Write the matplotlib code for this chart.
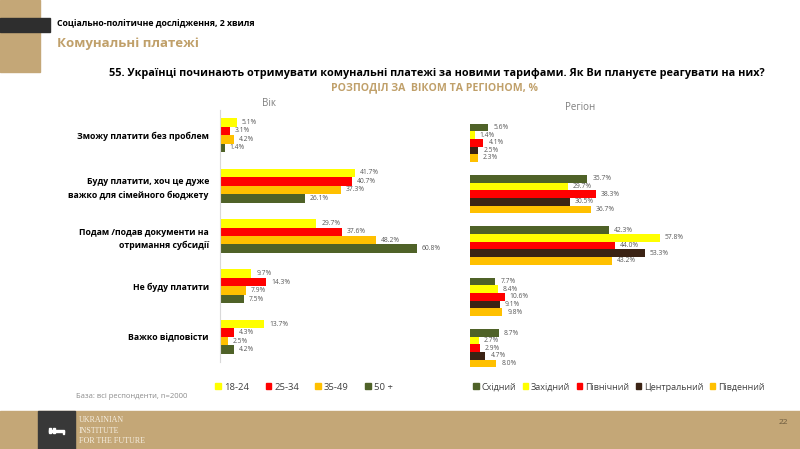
import matplotlib
matplotlib.use("Agg")
import matplotlib.pyplot as plt
from matplotlib.patches import Rectangle, Patch
import numpy as np

plt.rcParams['font.family'] = ['Open Sans', 'DejaVu Sans']

# --- data ---
answers = ["Зможу платити без проблем",
           "Буду платити, хоч це дуже\nважко для сімейного бюджету",
           "Подам /подав документи на\nотримання субсидії",
           "Не буду платити",
           "Важко відповісти"]

age_groups = ["18-24", "25-34", "35-49", "50 +"]
age_18_24 = [5.1, 41.7, 29.7, 9.7, 13.7]
age_25_34 = [3.1, 40.7, 37.6, 14.3, 4.3]
age_35_49 = [4.2, 37.3, 48.2, 7.9, 2.5]
age_50 = [1.4, 26.1, 60.8, 7.5, 4.2]

regions = ["Східний", "Західний", "Північний", "Центральний", "Південний"]
reg_east = [5.6, 35.7, 42.3, 7.7, 8.7]
reg_west = [1.4, 29.7, 57.8, 8.4, 2.7]
reg_north = [4.1, 38.3, 44.0, 10.6, 2.9]
reg_center = [2.5, 30.5, 53.3, 9.1, 4.7]
reg_south = [2.3, 36.7, 43.2, 9.8, 8.0]

yellow = "#FFFF00"
red = "#FF0000"
orange = "#FFC000"
olive = "#4F6228"
brown = "#3B2314"
tan = "#C4A777"
gold = "#C0A06A"
lblgray = "#595959"

W, H = 800, 449
fig = plt.figure(figsize=(W / 100, H / 100), dpi=100)


def box(x0, y0, x1, y1):
    # pixel box (top-left origin) -> figure fraction rect
    return [x0 / W, 1 - y1 / H, (x1 - x0) / W, (y1 - y0) / H]


def fx(x):
    return x / W


def fy(y):
    return 1 - y / H


# decorations
fig.patches.append(Rectangle((0, fy(72)), fx(40), 72 / H, transform=fig.transFigure,
                             color=tan, zorder=0))
fig.patches.append(Rectangle((0, fy(32)), fx(50), 14 / H, transform=fig.transFigure,
                             color="#2E2E2E", zorder=1))
fig.patches.append(Rectangle((0, 0), 1, 38 / H, transform=fig.transFigure,
                             color=tan, zorder=0))
fig.patches.append(Rectangle((fx(38), 0), fx(37), 38 / H, transform=fig.transFigure,
                             color="#383838", zorder=1))
# small key logo
fig.patches.append(Rectangle((fx(49), fy(432)), fx(15), 1.6 / H, transform=fig.transFigure,
                             color="white", zorder=2))
fig.patches.append(Rectangle((fx(49), fy(433)), fx(1.6), 5 / H, transform=fig.transFigure,
                             color="white", zorder=2))
fig.patches.append(Rectangle((fx(53), fy(433)), fx(1.6), 5 / H, transform=fig.transFigure,
                             color="white", zorder=2))
fig.patches.append(Rectangle((fx(62.5), fy(434)), fx(1.6), 3 / H, transform=fig.transFigure,
                             color="white", zorder=2))

fig.text(fx(57), fy(24), "Соціально-політичне дослідження, 2 хвиля", fontsize=6.3,
         fontweight="bold", va="center", ha="left", color="black")
fig.text(fx(57), fy(43), "Комунальні платежі", fontsize=9.5, fontweight="bold",
         va="center", ha="left", color=gold)
fig.text(fx(437), fy(73),
         "55. Українці починають отримувати комунальні платежі за новими тарифами. Як Ви плануєте реагувати на них?",
         fontsize=7.8, fontweight="bold", ha="center", va="center", color="black")
fig.text(fx(435), fy(88), "РОЗПОДІЛ ЗА  ВІКОМ ТА РЕГІОНОМ, %", fontsize=7.6,
         fontweight="bold", ha="center", va="center", color=gold)
fig.text(fx(269), fy(104), "Вік", fontsize=7, ha="center", va="center", color="#7F7F7F")
fig.text(fx(580), fy(107), "Регіон", fontsize=7, ha="center", va="center", color="#7F7F7F")
fig.text(fx(76), fy(397), "База: всі респонденти, n=2000", fontsize=5.5, ha="left",
         va="center", color="#8C8C8C")

# footer text
for yy, txt in [(420, "UKRAINIAN"), (431, "INSTITUTE"), (441, "FOR THE FUTURE")]:
    fig.text(fx(79), fy(yy), txt, fontsize=5.8, family="Liberation Serif",
             color="#F5EEE0", va="center", ha="left")
fig.text(fx(783), fy(423), "22", fontsize=6, color="#6B5A3E", ha="center", va="center")

# --- age chart ---
ax1 = fig.add_axes(box(220, 110, 447, 362))
age_series = [age_18_24, age_25_34, age_35_49, age_50]
age_colors = [yellow, red, orange, olive]
y = np.arange(len(answers))
bh = 0.168
for i, (vals, c) in enumerate(zip(age_series, age_colors)):
    pos = y - 1.5 * bh + i * bh
    ax1.barh(pos, vals, height=bh, color=c)
    for p, v in zip(pos, vals):
        ax1.text(v + 1.5, p, f"{v:.1f}%", fontsize=4.9, color=lblgray, va="center", ha="left")
ax1.set_xlim(0, 70)
ax1.set_ylim(4.5, -0.5)
ax1.set_yticks(y)
ax1.set_yticklabels(answers, fontsize=6.3, fontweight="bold", linespacing=1.6)
ax1.tick_params(axis="y", length=0, pad=8)
ax1.set_xticks([])
for s in ["top", "right", "bottom"]:
    ax1.spines[s].set_visible(False)
ax1.spines["left"].set_color("#D9D9D9")
ax1.spines["left"].set_linewidth(0.8)

# --- region chart ---
ax2 = fig.add_axes(box(470, 117, 700, 374))
reg_series = [reg_east, reg_west, reg_north, reg_center, reg_south]
reg_colors = [olive, yellow, red, brown, orange]
bh2 = 0.148
for i, (vals, c) in enumerate(zip(reg_series, reg_colors)):
    pos = y - 2 * bh2 + i * bh2
    ax2.barh(pos, vals, height=bh2, color=c)
    for p, v in zip(pos, vals):
        ax2.text(v + 1.5, p, f"{v:.1f}%", fontsize=4.9, color=lblgray, va="center", ha="left")
ax2.set_xlim(0, 70)
ax2.set_ylim(4.5, -0.5)
ax2.axis("off")

# legends
h1 = [Patch(color=c) for c in age_colors]
fig.legend(h1, age_groups, loc="center left", bbox_to_anchor=(fx(207), fy(387)), ncol=4,
           frameon=False, fontsize=6.8, handlelength=0.6, handleheight=0.6,
           handletextpad=0.3, columnspacing=1.75, labelcolor="#404040")
h2 = [Patch(color=c) for c in reg_colors]
fig.legend(h2, regions, loc="center left", bbox_to_anchor=(fx(465), fy(387)), ncol=5,
           frameon=False, fontsize=6.5, handlelength=0.6, handleheight=0.6,
           handletextpad=0.3, columnspacing=0.75, labelcolor="#404040")

fig.savefig("out.png", dpi=100)
